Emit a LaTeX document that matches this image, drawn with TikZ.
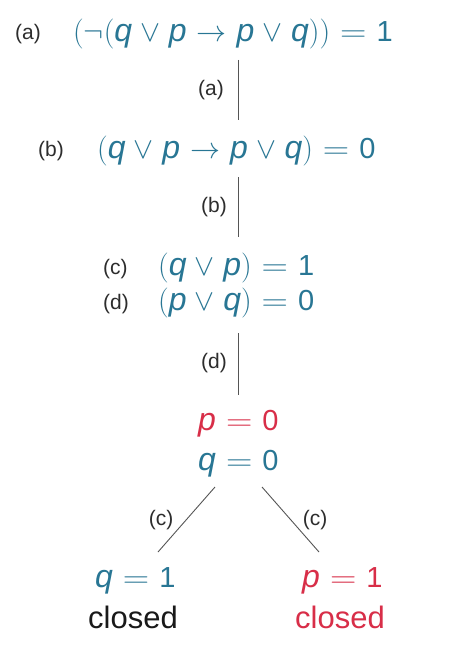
\RequirePackage{fix-cm}
\documentclass[tikz,border=0pt]{standalone}
\usepackage{graphicx}
\usepackage{fontspec}
\setmainfont{Liberation Sans}
\definecolor{fblue}{RGB}{40,118,148}
\definecolor{fred}{RGB}{216,46,72}
\definecolor{labc}{RGB}{45,45,45}
\definecolor{linec}{RGB}{85,85,85}
\newcommand{\vp}{\mbox{\fontsize{32}{36}\selectfont\itshape p}}
\newcommand{\vq}{\mbox{\fontsize{32}{36}\selectfont\itshape q}}
\newcommand{\nm}[1]{\mbox{\fontsize{29}{34}\selectfont #1}}
\newcommand{\eqq}{\mathrel{\scalebox{1.22}[1]{$=$}}}
\newcommand{\fmath}{\fontsize{30}{34}\selectfont\medmuskip=5mu plus 1mu\thickmuskip=6mu plus 2mu}
\begin{document}
\begin{tikzpicture}[x=1pt,y=-1pt,
  form/.style={inner sep=0pt, anchor=base west, font=\fmath, text=fblue},
  lab/.style={inner sep=0pt, anchor=base west, font=\fontsize{21}{25}\selectfont, text=labc},
  elab/.style={inner sep=0pt, font=\fontsize{21}{25}\selectfont, text=labc},
  big/.style={inner sep=0pt, anchor=base west, font=\fontsize{31}{36}\selectfont},
  edge/.style={draw=linec, line width=0.9pt}]
\useasboundingbox (0,0) rectangle (464,658);
\fill[white] (0,0) rectangle (464,658);
% formulas
\node[form] (f1) at (73,42) {$(\neg(\vq\vee\vp\to\vp\vee\vq))\eqq\nm{1}$};
\node[lab]  (l1) at (15,40) {(a)};
\node[form] (f2) at (97,158) {$(\vq\vee\vp\to\vp\vee\vq)\eqq\nm{0}$};
\node[lab]  (l2) at (38,157) {(b)};
\node[form] (f3) at (158,275) {$(\vq\vee\vp)\eqq\nm{1}$};
\node[lab]  (l3) at (103,274) {(c)};
\node[form] (f4) at (158,310) {$(\vp\vee\vq)\eqq\nm{0}$};
\node[lab]  (l4) at (103,309) {(d)};
\node[form, text=fred] (p0) at (198,430) {$\vp\eqq\nm{0}$};
\node[form] (q0) at (198,470) {$\vq\eqq\nm{0}$};
\node[form] (q1) at (95,587) {$\vq\eqq\nm{1}$};
\node[big, text=black!90] (c1) at (88,628) {closed};
\node[form, text=fred] (p1) at (302,587) {$\vp\eqq\nm{1}$};
\node[big, text=fred] (c2) at (295,628) {closed};
% connectors
\coordinate (a1) at (238,60);  \coordinate (a2) at (238,120);
\coordinate (b1) at (238,177); \coordinate (b2) at (238,237);
\coordinate (d1) at (238,333); \coordinate (d2) at (238,395);
\coordinate (cl1) at (215,487); \coordinate (cl2) at (158,552);
\coordinate (cr1) at (262,487); \coordinate (cr2) at (319,552);
\draw[edge] (a1) -- (a2);
\draw[edge] (b1) -- (b2);
\draw[edge] (d1) -- (d2);
\draw[edge] (cl1) -- (cl2);
\draw[edge] (cr1) -- (cr2);
\node[elab] (ea) at (211,90) {(a)};
\node[elab] (eb) at (214,207) {(b)};
\node[elab] (ed) at (214,363) {(d)};
\node[elab] (ecl) at (161,520) {(c)};
\node[elab] (ecr) at (315,520) {(c)};
\end{tikzpicture}
\end{document}
